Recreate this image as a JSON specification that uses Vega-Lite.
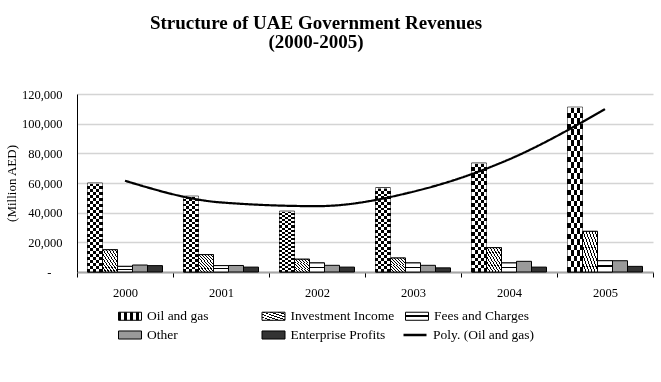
{
  "$schema": "https://vega.github.io/schema/vega-lite/v6.json",
  "width": 576,
  "height": 178,
  "padding": {"left": 5, "top": 14, "right": 5, "bottom": 5},
  "background": "white",
  "config": {"view": {"stroke": null}, "font": "Liberation Serif"},
  "title": {
    "text": ["Structure of UAE Government Revenues", "(2000-2005)"],
    "font": "Liberation Serif",
    "fontSize": 19,
    "fontWeight": "bold",
    "color": "black",
    "lineHeight": 19,
    "offset": 36,
    "anchor": "middle",
    "frame": "group",
    "dx": -49
  },
  "datasets": {
    "rev": [
      {"year": "2000", "series": "Oil and gas", "value": 59800},
      {"year": "2000", "series": "Investment Income", "value": 15000},
      {"year": "2000", "series": "Fees and Charges", "value": 3800},
      {"year": "2000", "series": "Other", "value": 4700},
      {"year": "2000", "series": "Enterprise Profits", "value": 4300},
      {"year": "2001", "series": "Oil and gas", "value": 51000},
      {"year": "2001", "series": "Investment Income", "value": 11700},
      {"year": "2001", "series": "Fees and Charges", "value": 4300},
      {"year": "2001", "series": "Other", "value": 4400},
      {"year": "2001", "series": "Enterprise Profits", "value": 3300},
      {"year": "2002", "series": "Oil and gas", "value": 40900},
      {"year": "2002", "series": "Investment Income", "value": 8600},
      {"year": "2002", "series": "Fees and Charges", "value": 6100},
      {"year": "2002", "series": "Other", "value": 4500},
      {"year": "2002", "series": "Enterprise Profits", "value": 3300},
      {"year": "2003", "series": "Oil and gas", "value": 56600},
      {"year": "2003", "series": "Investment Income", "value": 9400},
      {"year": "2003", "series": "Fees and Charges", "value": 6100},
      {"year": "2003", "series": "Other", "value": 4500},
      {"year": "2003", "series": "Enterprise Profits", "value": 2800},
      {"year": "2004", "series": "Oil and gas", "value": 73300},
      {"year": "2004", "series": "Investment Income", "value": 16400},
      {"year": "2004", "series": "Fees and Charges", "value": 6100},
      {"year": "2004", "series": "Other", "value": 7200},
      {"year": "2004", "series": "Enterprise Profits", "value": 3300},
      {"year": "2005", "series": "Oil and gas", "value": 111000},
      {"year": "2005", "series": "Investment Income", "value": 27400},
      {"year": "2005", "series": "Fees and Charges", "value": 7600},
      {"year": "2005", "series": "Other", "value": 7600},
      {"year": "2005", "series": "Enterprise Profits", "value": 3800}
    ],
    "trend": [
      {"year": "2000", "trend": 61500},
      {"year": "2001", "trend": 46900},
      {"year": "2002", "trend": 44400},
      {"year": "2003", "trend": 54100},
      {"year": "2004", "trend": 75900},
      {"year": "2005", "trend": 109800}
    ]
  },
  "layer": [
    {
      "data": {"name": "rev"},
      "mark": {"type": "bar", "stroke": "black", "strokeWidth": 1, "opacity": 1},
      "encoding": {
        "x": {
          "field": "year", "type": "nominal",
          "scale": {"paddingInner": 0, "paddingOuter": 0},
          "axis": {
            "title": null, "labelAngle": 0, "tickBand": "extent",
            "ticks": true, "tickSize": 5, "tickColor": "black",
            "domainColor": "#a6a6a6", "domainWidth": 2,
            "labelFont": "Liberation Serif", "labelFontSize": 12.5, "labelColor": "black",
            "labelPadding": 9
          }
        },
        "xOffset": {
          "field": "series", "type": "nominal",
          "sort": ["Oil and gas", "Investment Income", "Fees and Charges", "Other", "Enterprise Profits"],
          "scale": {"paddingOuter": 0.7, "paddingInner": 0}
        },
        "y": {
          "field": "value", "type": "quantitative",
          "scale": {"domain": [0, 120000], "nice": false},
          "axis": {
            "values": [0, 20000, 40000, 60000, 80000, 100000, 120000],
            "tickCount": 7, "labelOverlap": false,
            "labelExpr": "datum.value === 0 ? '-' : format(datum.value, ',')",
            "labelFont": "Liberation Serif", "labelFontSize": 12.5, "labelColor": "black",
            "labelPadding": {"condition": {"test": "datum.value === 0", "value": 26}, "value": 15},
            "ticks": false,
            "domain": true, "domainColor": "black", "domainWidth": 1,
            "grid": true, "gridColor": "#d4d4d4", "gridWidth": 1.5,
            "title": "(Million AED)", "titleFont": "Liberation Serif", "titleFontSize": 13,
            "titleFontWeight": "normal", "titleColor": "black", "titlePadding": 3
          }
        },
        "color": {
          "field": "series", "type": "nominal",
          "scale": {
            "domain": ["Oil and gas", "Investment Income", "Fees and Charges", "Other", "Enterprise Profits"],
            "range": [
              {"expr": "{gradient: 'linear', x1: 0, y1: 0, x2: 1, y2: 0, stops: [{offset: 0, color: 'black'}, {offset: 0.125, color: 'black'}, {offset: 0.125, color: 'white'}, {offset: 0.25, color: 'white'}, {offset: 0.25, color: 'black'}, {offset: 0.375, color: 'black'}, {offset: 0.375, color: 'white'}, {offset: 0.5, color: 'white'}, {offset: 0.5, color: 'black'}, {offset: 0.625, color: 'black'}, {offset: 0.625, color: 'white'}, {offset: 0.75, color: 'white'}, {offset: 0.75, color: 'black'}, {offset: 0.875, color: 'black'}, {offset: 0.875, color: 'white'}, {offset: 1, color: 'white'}]}"},
              {"expr": "{gradient: 'linear', x1: 0, y1: 1, x2: 1, y2: 0, stops: [{offset: 0, color: 'black'}, {offset: 0.058, color: 'black'}, {offset: 0.058, color: 'white'}, {offset: 0.167, color: 'white'}, {offset: 0.167, color: 'black'}, {offset: 0.225, color: 'black'}, {offset: 0.225, color: 'white'}, {offset: 0.333, color: 'white'}, {offset: 0.333, color: 'black'}, {offset: 0.392, color: 'black'}, {offset: 0.392, color: 'white'}, {offset: 0.5, color: 'white'}, {offset: 0.5, color: 'black'}, {offset: 0.558, color: 'black'}, {offset: 0.558, color: 'white'}, {offset: 0.667, color: 'white'}, {offset: 0.667, color: 'black'}, {offset: 0.725, color: 'black'}, {offset: 0.725, color: 'white'}, {offset: 0.833, color: 'white'}, {offset: 0.833, color: 'black'}, {offset: 0.892, color: 'black'}, {offset: 0.892, color: 'white'}, {offset: 1, color: 'white'}]}"},
              {"expr": "{gradient: 'linear', x1: 0, y1: 0, x2: 0, y2: 1, stops: [{offset: 0, color: 'white'}, {offset: 0.4, color: 'white'}, {offset: 0.4, color: 'black'}, {offset: 0.6, color: 'black'}, {offset: 0.6, color: 'white'}, {offset: 1, color: 'white'}]}"},
              "#9a9a9a",
              "#333333"
            ]
          },
          "legend": {
            "title": null, "orient": "none", "legendX": 41, "legendY": 210,
            "direction": "horizontal", "columns": 3,
            "gridAlign": "all", "columnPadding": 8.5, "rowPadding": -3,
            "labelFont": "Liberation Serif", "labelFontSize": 13.5, "labelColor": "black",
            "labelOffset": 5, "symbolSize": 529, "symbolStrokeColor": "black", "symbolStrokeWidth": 1,
            "symbolType": "M-1,-0.35H1V0.35H-1Z"
          }
        }
      }
    },
    {
      "data": {"name": "rev"},
      "transform": [{"filter": "datum.series === 'Oil and gas'"}],
      "mark": {
        "type": "bar", "stroke": "black", "strokeWidth": 1,
        "fill": {"gradient": "linear", "x1": 0, "y1": 0, "x2": 1, "y2": 0,
          "stops": [
            {"offset": 0, "color": "black"}, {"offset": 0.2, "color": "black"},
            {"offset": 0.2, "color": "white"}, {"offset": 0.4, "color": "white"},
            {"offset": 0.4, "color": "black"}, {"offset": 0.6, "color": "black"},
            {"offset": 0.6, "color": "white"}, {"offset": 0.8, "color": "white"},
            {"offset": 0.8, "color": "black"}, {"offset": 1, "color": "black"}
          ]}
      },
      "encoding": {
        "x": {"field": "year", "type": "nominal"},
        "xOffset": {"field": "series", "type": "nominal", "sort": ["Oil and gas", "Investment Income", "Fees and Charges", "Other", "Enterprise Profits"]},
        "y": {"field": "value", "type": "quantitative"}
      }
    },
    {
      "data": {"name": "rev"},
      "transform": [{"filter": "datum.series === 'Oil and gas'"}],
      "mark": {
        "type": "bar", "strokeWidth": 0, "blend": "difference",
        "fill": {"gradient": "linear", "x1": 0, "y1": 0, "x2": 0, "y2": 1,
          "stops": [
            {"offset": 0, "color": "white"}, {"offset": 0.0333, "color": "white"}, {"offset": 0.0333, "color": "black"}, {"offset": 0.0667, "color": "black"},
            {"offset": 0.0667, "color": "white"}, {"offset": 0.1, "color": "white"}, {"offset": 0.1, "color": "black"}, {"offset": 0.1333, "color": "black"},
            {"offset": 0.1333, "color": "white"}, {"offset": 0.1667, "color": "white"}, {"offset": 0.1667, "color": "black"}, {"offset": 0.2, "color": "black"},
            {"offset": 0.2, "color": "white"}, {"offset": 0.2333, "color": "white"}, {"offset": 0.2333, "color": "black"}, {"offset": 0.2667, "color": "black"},
            {"offset": 0.2667, "color": "white"}, {"offset": 0.3, "color": "white"}, {"offset": 0.3, "color": "black"}, {"offset": 0.3333, "color": "black"},
            {"offset": 0.3333, "color": "white"}, {"offset": 0.3667, "color": "white"}, {"offset": 0.3667, "color": "black"}, {"offset": 0.4, "color": "black"},
            {"offset": 0.4, "color": "white"}, {"offset": 0.4333, "color": "white"}, {"offset": 0.4333, "color": "black"}, {"offset": 0.4667, "color": "black"},
            {"offset": 0.4667, "color": "white"}, {"offset": 0.5, "color": "white"}, {"offset": 0.5, "color": "black"}, {"offset": 0.5333, "color": "black"},
            {"offset": 0.5333, "color": "white"}, {"offset": 0.5667, "color": "white"}, {"offset": 0.5667, "color": "black"}, {"offset": 0.6, "color": "black"},
            {"offset": 0.6, "color": "white"}, {"offset": 0.6333, "color": "white"}, {"offset": 0.6333, "color": "black"}, {"offset": 0.6667, "color": "black"},
            {"offset": 0.6667, "color": "white"}, {"offset": 0.7, "color": "white"}, {"offset": 0.7, "color": "black"}, {"offset": 0.7333, "color": "black"},
            {"offset": 0.7333, "color": "white"}, {"offset": 0.7667, "color": "white"}, {"offset": 0.7667, "color": "black"}, {"offset": 0.8, "color": "black"},
            {"offset": 0.8, "color": "white"}, {"offset": 0.8333, "color": "white"}, {"offset": 0.8333, "color": "black"}, {"offset": 0.8667, "color": "black"},
            {"offset": 0.8667, "color": "white"}, {"offset": 0.9, "color": "white"}, {"offset": 0.9, "color": "black"}, {"offset": 0.9333, "color": "black"},
            {"offset": 0.9333, "color": "white"}, {"offset": 0.9667, "color": "white"}, {"offset": 0.9667, "color": "black"}, {"offset": 1, "color": "black"}
          ]}
      },
      "encoding": {
        "x": {"field": "year", "type": "nominal"},
        "xOffset": {"field": "series", "type": "nominal", "sort": ["Oil and gas", "Investment Income", "Fees and Charges", "Other", "Enterprise Profits"]},
        "y": {"field": "value", "type": "quantitative"}
      }
    },
    {
      "data": {"name": "rev"},
      "transform": [{"filter": "datum.series === 'Investment Income'"}],
      "mark": {
        "type": "bar", "stroke": "black", "strokeWidth": 1,
        "fill": {"gradient": "linear", "x1": 0, "y1": 1, "x2": 1, "y2": 0,
          "stops": [
            {"offset": 0, "color": "black"}, {"offset": 0.035, "color": "black"}, {"offset": 0.035, "color": "white"}, {"offset": 0.1, "color": "white"},
            {"offset": 0.1, "color": "black"}, {"offset": 0.135, "color": "black"}, {"offset": 0.135, "color": "white"}, {"offset": 0.2, "color": "white"},
            {"offset": 0.2, "color": "black"}, {"offset": 0.235, "color": "black"}, {"offset": 0.235, "color": "white"}, {"offset": 0.3, "color": "white"},
            {"offset": 0.3, "color": "black"}, {"offset": 0.335, "color": "black"}, {"offset": 0.335, "color": "white"}, {"offset": 0.4, "color": "white"},
            {"offset": 0.4, "color": "black"}, {"offset": 0.435, "color": "black"}, {"offset": 0.435, "color": "white"}, {"offset": 0.5, "color": "white"},
            {"offset": 0.5, "color": "black"}, {"offset": 0.535, "color": "black"}, {"offset": 0.535, "color": "white"}, {"offset": 0.6, "color": "white"},
            {"offset": 0.6, "color": "black"}, {"offset": 0.635, "color": "black"}, {"offset": 0.635, "color": "white"}, {"offset": 0.7, "color": "white"},
            {"offset": 0.7, "color": "black"}, {"offset": 0.735, "color": "black"}, {"offset": 0.735, "color": "white"}, {"offset": 0.8, "color": "white"},
            {"offset": 0.8, "color": "black"}, {"offset": 0.835, "color": "black"}, {"offset": 0.835, "color": "white"}, {"offset": 0.9, "color": "white"},
            {"offset": 0.9, "color": "black"}, {"offset": 0.935, "color": "black"}, {"offset": 0.935, "color": "white"}, {"offset": 1, "color": "white"}
          ]}
      },
      "encoding": {
        "x": {"field": "year", "type": "nominal"},
        "xOffset": {"field": "series", "type": "nominal", "sort": ["Oil and gas", "Investment Income", "Fees and Charges", "Other", "Enterprise Profits"]},
        "y": {"field": "value", "type": "quantitative"}
      }
    },
    {
      "data": {"name": "rev"},
      "transform": [{"filter": "datum.series === 'Fees and Charges'"}],
      "mark": {
        "type": "bar", "stroke": "black", "strokeWidth": 1,
        "fill": {"gradient": "linear", "x1": 0, "y1": 0, "x2": 0, "y2": 1,
          "stops": [
            {"offset": 0, "color": "white"}, {"offset": 0.42, "color": "white"},
            {"offset": 0.42, "color": "black"}, {"offset": 0.58, "color": "black"},
            {"offset": 0.58, "color": "white"}, {"offset": 1, "color": "white"}
          ]}
      },
      "encoding": {
        "x": {"field": "year", "type": "nominal"},
        "xOffset": {"field": "series", "type": "nominal", "sort": ["Oil and gas", "Investment Income", "Fees and Charges", "Other", "Enterprise Profits"]},
        "y": {"field": "value", "type": "quantitative"}
      }
    },
    {
      "data": {"name": "trend"},
      "mark": {"type": "line", "interpolate": "monotone", "strokeWidth": 2.2, "color": "black"},
      "encoding": {
        "x": {"field": "year", "type": "nominal"},
        "y": {"field": "trend", "type": "quantitative"},
        "strokeDash": {
          "datum": "Poly. (Oil and gas)",
          "scale": {"range": [[1, 0]]},
          "legend": {
            "title": null, "orient": "none", "legendX": 325, "legendY": 228,
            "labelFont": "Liberation Serif", "labelFontSize": 13.5, "labelColor": "black",
            "labelOffset": 5, "symbolSize": 529, "symbolStrokeColor": "black",
            "symbolStrokeWidth": 2.5, "symbolType": "stroke"
          }
        }
      }
    }
  ]
}
